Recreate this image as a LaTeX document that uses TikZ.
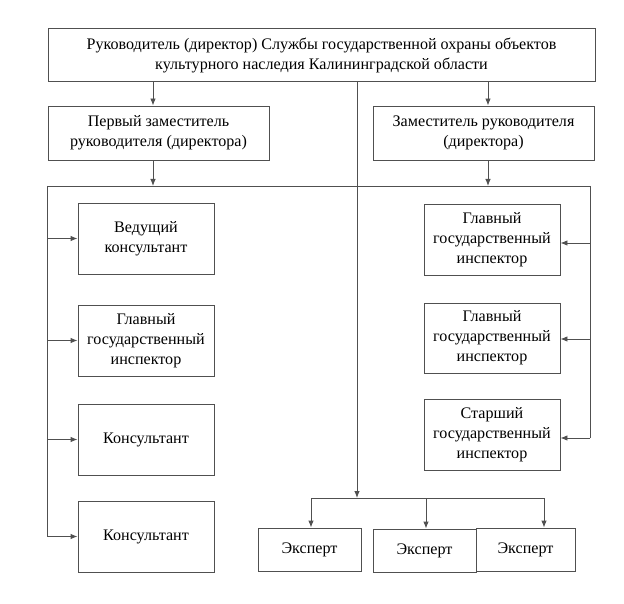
\documentclass[tikz,border=0pt]{standalone}
\usepackage{fontspec}
\setmainfont{Liberation Serif}
\newfontfamily\serf{Liberation Serif}
\usetikzlibrary{arrows.meta}
\definecolor{linec}{RGB}{80,80,80}
\begin{document}
\begin{tikzpicture}[x=1pt,y=-1pt,
  box/.style={draw=linec, line width=0.9pt, align=center, inner sep=0pt,
    font=\serf\fontsize{16.1}{20}\selectfont},
  lbox/.style={box, minimum width=136pt, minimum height=71pt},
  ebox/.style={box, minimum width=103pt, minimum height=43pt},
  arr/.style={draw=linec, line width=0.9pt, -{Latex[length=7pt,width=5.5pt]}},
  ln/.style={draw=linec, line width=0.9pt}]
\useasboundingbox (0,0) rectangle (624,604);
\fill[white] (0,0) rectangle (624,604);

\node[box, minimum width=547pt, minimum height=53pt] (top) at (321.5,55)
  {Руководитель (директор) Службы государственной охраны объектов\\культурного наследия Калининградской области};
\node[box, minimum width=221pt, minimum height=54pt] (ld) at (158.5,133)
  {Первый заместитель\\руководителя (директора)};
\node[box, minimum width=221pt, minimum height=54pt] (rd) at (483.5,133)
  {Заместитель руководителя\\(директора)};

\node[lbox] (lb1) at (146,238.5) {Ведущий\\консультант};
\node[lbox] (lb2) at (146,340.5) {Главный\\государственный\\инспектор};
\node[lbox] (lb3) at (146,439.5) {Консультант};
\node[lbox] (lb4) at (146,536.5) {Консультант};

\node[lbox] (rb1) at (492,239.5) {Главный\\государственный\\инспектор};
\node[lbox, minimum height=70pt] (rb2) at (492,338) {Главный\\государственный\\инспектор};
\node[lbox] (rb3) at (492,435) {Старший\\государственный\\инспектор};

\node[ebox] (e1) at (309.5,549.5) {Эксперт};
\node[ebox] (e2) at (424.5,550.5) {Эксперт};
\node[ebox, minimum width=99pt] (e3) at (525.5,549.5) {Эксперт};

\coordinate (la) at (153,0);
\coordinate (ra) at (488,0);
\coordinate (mx) at (357,0);
\coordinate (bl) at (47,186);
\coordinate (br) at (590,186);
\coordinate (eb) at (357,498);
\coordinate (x1) at (311,498);
\coordinate (x2) at (426,498);
\coordinate (x3) at (544,498);

\draw[arr] (la |- top.south) -- (la |- ld.north);
\draw[arr] (ra |- top.south) -- (ra |- rd.north);
\draw[ln] (bl) -- (br);
\draw[arr] (la |- ld.south) -- (la |- bl);
\draw[arr] (ra |- rd.south) -- (ra |- br);

\draw[ln] (bl) -- (bl |- lb4.west);
\draw[arr] (bl |- lb1.west) -- (lb1.west);
\draw[arr] (bl |- lb2.west) -- (lb2.west);
\draw[arr] (bl |- lb3.west) -- (lb3.west);
\draw[arr] (bl |- lb4.west) -- (lb4.west);

\draw[ln] (br) -- ([yshift=-3pt]br |- rb3.east);
\draw[arr] ([yshift=-3.5pt]br |- rb1.east) -- ([yshift=-3.5pt]rb1.east);
\draw[arr] ([yshift=-1pt]br |- rb2.east) -- ([yshift=-1pt]rb2.east);
\draw[arr] ([yshift=-3pt]br |- rb3.east) -- ([yshift=-3pt]rb3.east);

\draw[arr] (mx |- top.south) -- (eb);
\draw[ln] (x1) -- (x3);
\draw[arr] (x1) -- (x1 |- e1.north);
\draw[arr] (x2) -- (x2 |- e2.north);
\draw[arr] (x3) -- (x3 |- e3.north);
\end{tikzpicture}
\end{document}
